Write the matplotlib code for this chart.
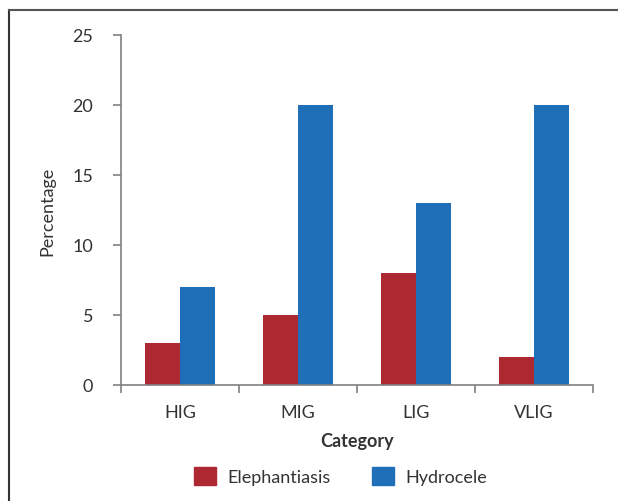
import numpy as np
import matplotlib.pyplot as plt
from matplotlib.lines import Line2D
from matplotlib.patches import Patch

plt.rcParams['font.family'] = ['Lato', 'DejaVu Sans']

categories = ['HIG', 'MIG', 'LIG', 'VLIG']
elephantiasis = [3, 5, 8, 2]
hydrocele = [7, 20, 13, 20]

red = '#ad2831'
blue = '#1f6fb8'
axcol = '#808080'
txt = '#333333'

fig = plt.figure(figsize=(6.18, 5.02), dpi=100)
ax = fig.add_axes([0.1958, 0.2311, 0.7637, 0.6972])

x = np.arange(len(categories))
w = 0.3
ax.bar(x - w/2, elephantiasis, w, color=red, label='Elephantiasis')
ax.bar(x + w/2, hydrocele, w, color=blue, label='Hydrocele')

ax.set_xlim(-0.5, len(categories) - 0.5)
ax.set_ylim(0, 25)
ax.set_yticks(range(0, 26, 5))

# boundary ticks on x, labels at centers
ax.set_xticks(np.arange(-0.5, len(categories), 1))
ax.set_xticklabels([])
ax.set_xticks(x, minor=True)
ax.set_xticklabels(categories, minor=True)
ax.tick_params(axis='x', which='minor', length=0, pad=14, labelsize=13, labelcolor=txt)
ax.tick_params(axis='x', which='major', length=6, width=1.2, color=axcol, direction='out')
ax.tick_params(axis='y', length=6, width=1.2, color=axcol, pad=14, labelsize=13, labelcolor=txt)

for s in ['top', 'right']:
    ax.spines[s].set_visible(False)
for s in ['left', 'bottom']:
    ax.spines[s].set_color(axcol)
    ax.spines[s].set_linewidth(1.2)

ax.set_xlabel('Category', fontsize=13, fontweight='bold', color=txt, labelpad=8)
ax.set_ylabel('Percentage', fontsize=13, color=txt, labelpad=12)

handles = [Patch(color=red, label='Elephantiasis'), Patch(color=blue, label='Hydrocele')]
fig.legend(handles=handles, loc='center', bbox_to_anchor=(0.551, 0.05), ncol=2,
           frameon=False, fontsize=13, handlelength=1.2, handleheight=1.2,
           columnspacing=2.3, handletextpad=0.65, labelcolor=txt)

# outer frame: left and top lines
fig.add_artist(Line2D([0.015, 0.015], [0, 0.978], color='#333333', lw=1.5, transform=fig.transFigure))
fig.add_artist(Line2D([0.015, 1.0], [0.978, 0.978], color='#555555', lw=1.5, transform=fig.transFigure))

fig.savefig('out.png', dpi=100)
